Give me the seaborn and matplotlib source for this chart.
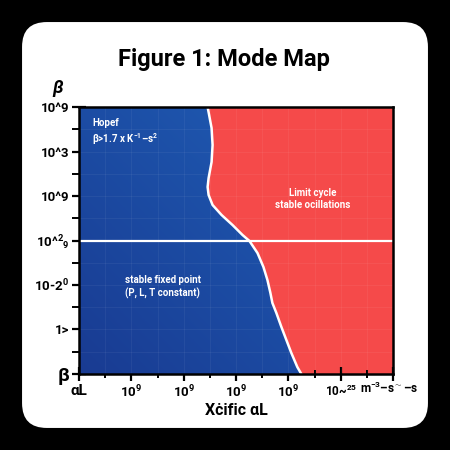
import numpy as np
import matplotlib
matplotlib.use("Agg")
import matplotlib.pyplot as plt
from matplotlib.patches import FancyBboxPatch
import seaborn as sns

sns.set_theme(style="ticks")
plt.rcParams['font.family'] = ['Roboto', 'DejaVu Sans']
plt.rcParams['text.color'] = 'black'
plt.rcParams['mathtext.fontset'] = 'custom'
plt.rcParams['mathtext.rm'] = 'Roboto:bold'
plt.rcParams['mathtext.it'] = 'Roboto:bold:italic'
plt.rcParams['mathtext.bf'] = 'Roboto:bold'
plt.rcParams['mathtext.default'] = 'rm'

# tick labels (garbled as in the original)
y_ticks = [0, 1, 2, 3, 4, 5, 6]
y_labels = ["β", "1>", "10-2$^0$", "10^$^2$$_9$", "10^9", "10^3", "10^9"]
x_ticks = [0, 1, 2, 3, 4, 5, 6]
x_labels = ["αL", "10$^9$", "10$^9$", "10$^9$", "10$^9$", "10~$^{25}$", ""]
x_unit = "m$^{-3}$–s$^{\\sim}$–s"

# boundary between stable fixed point (left) and limit cycle (right)
bound_y = [6.0, 5.528, 5.146, 4.764, 4.404, 4.202, 4.022, 3.798, 3.573,
           3.348, 3.124, 2.989, 2.719, 2.404, 2.112, 1.820, 1.596, 1.371,
           1.056, 0.764, 0.472, 0.157, 0.0]
bound_x = [2.457, 2.533, 2.552, 2.533, 2.476, 2.457, 2.476, 2.552, 2.724,
           2.933, 3.124, 3.257, 3.410, 3.524, 3.600, 3.657, 3.695, 3.771,
           3.867, 3.962, 4.057, 4.171, 4.248]

split_y = 3.0

fig = plt.figure(figsize=(4.5, 4.5), dpi=100)
fig.patch.set_facecolor("black")
card = FancyBboxPatch((0.049, 0.049), 0.902, 0.902,
                      boxstyle="round,pad=0,rounding_size=0.055",
                      transform=fig.transFigure, facecolor="white",
                      edgecolor="none", zorder=-10)
fig.patches.append(card)

ax = fig.add_axes([0.1756, 0.1689, 0.6978, 0.5933])
ax.set_xlim(0, 6)
ax.set_ylim(0, 6)
ax.set_facecolor("#f54a4a")

# blue region with a soft gradient, clipped to the left of the boundary
poly = ax.fill_betweenx(bound_y, 0, bound_x, facecolor="none", edgecolor="none")
gx, gy = np.meshgrid(np.linspace(0, 1, 200), np.linspace(0, 1, 200))
t = np.clip(0.55 * gx + 0.45 * gy, 0, 1)
c0 = np.array([0x19, 0x3b, 0x92]) / 255
c1 = np.array([0x20, 0x62, 0xba]) / 255
img = c0[None, None, :] * (1 - t[..., None]) + c1[None, None, :] * t[..., None]
im = ax.imshow(img, extent=[0, 6, 0, 6], origin="lower", aspect="auto", zorder=1)
im.set_clip_path(poly.get_paths()[0], transform=ax.transData)

# faint grid
for v in np.arange(0.5, 6, 0.5):
    ax.axvline(v, color="white", alpha=0.05, lw=0.8, zorder=2)
    ax.axhline(v, color="white", alpha=0.05, lw=0.8, zorder=2)

sns.lineplot(x=bound_x, y=bound_y, sort=False, estimator=None,
             color="white", lw=1.8, ax=ax, zorder=3,
             solid_joinstyle="round", solid_capstyle="round")
ax.axhline(split_y, color="white", lw=1.6, zorder=3)

txt = dict(color="white", fontweight="bold", zorder=4)
ax.text(0.25, 5.76, "Hopef\nβ>1.7 x K$^{-1}$–s$^{2}$", ha="left", va="top",
        fontsize=7, linespacing=1.3, **txt)
ax.text(1.6, 1.96, "stable fixed point\n(P, L, T constant)", ha="center",
        va="center", fontsize=7, linespacing=1.3, **txt)
ax.text(4.46, 3.93, "Limit cycle\nstable ocillations", ha="center",
        va="center", fontsize=7, linespacing=1.3, **txt)

ax.set_yticks(y_ticks)
ax.set_yticklabels(y_labels, fontsize=9.5, fontweight="bold")
ax.set_xticks(x_ticks)
ax.set_xticklabels(x_labels, fontsize=9.5, fontweight="bold")
ax.yaxis.get_ticklabels()[0].set_fontsize(14)
ax.xaxis.get_ticklabels()[0].set_fontsize(11)
ax.xaxis.get_ticklabels()[5].set_fontsize(8.5)
ax.set_yticks(np.arange(0.5, 6, 1), minor=True)
ax.set_xticks(np.arange(0.5, 6, 1), minor=True)
ax.tick_params(axis="both", which="major", direction="inout", length=10,
               width=1.6, color="black", pad=2, labelcolor="black")
ax.tick_params(axis="y", which="minor", direction="out", length=5, width=1.4,
               color="black")
ax.tick_params(axis="x", which="minor", direction="inout", length=6, width=1.4,
               color="black")
for s in ax.spines.values():
    s.set_linewidth(1.8)
    s.set_color("black")
    s.set_zorder(5)

ax.text(5.36, -0.15, x_unit, ha="left", va="top",
        fontsize=8.5, fontweight="bold", transform=ax.transData)
ax.set_xlabel("Xċific αL", fontsize=11.5, fontweight="bold", labelpad=2,
              color="black")
ax.text(-0.067, 1.07, "β", transform=ax.transAxes, ha="center", va="center",
        fontsize=13, fontweight="bold", fontstyle="italic")

fig.text(0.497, 0.867, "Figure 1: Mode Map", ha="center", va="center",
         fontsize=17, fontweight="bold", color="black")

fig.savefig("out.png", dpi=100, facecolor=fig.get_facecolor())
